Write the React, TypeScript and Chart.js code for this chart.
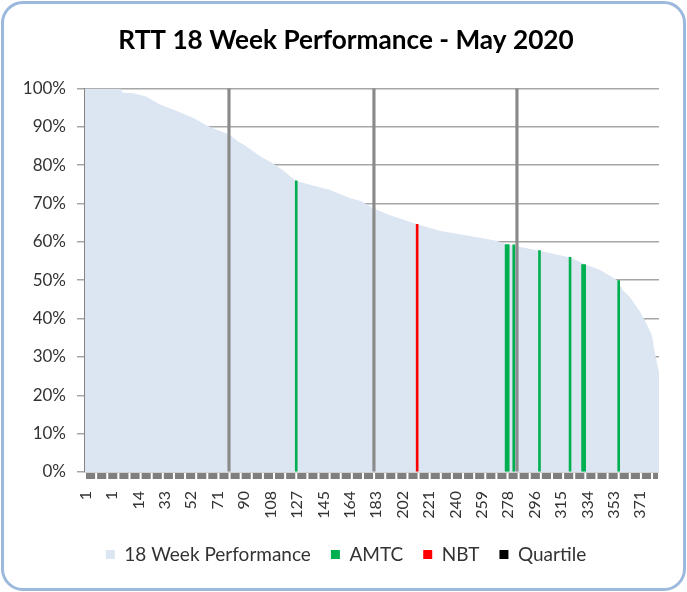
import React, { useEffect, useRef } from "react";
import { Chart, registerables } from "chart.js";

Chart.register(...registerables);

// ---- Data ----
const CATEGORY_COUNT = 413;
const LABEL_STEP = 19;
const TICK_MARK_STEP = 8;
const xTickLabels = ["1", "1", "14", "33", "52", "71", "90", "108", "127", "145", "164", "183", "202", "221", "240", "259", "278", "296", "315", "334", "353", "371"];
const yTicks = [0, 10, 20, 30, 40, 50, 60, 70, 80, 90, 100];

// 18 Week Performance (sorted, %)
const perfX = [0, 26, 27, 34, 44, 54, 66, 78, 88, 97, 104, 107, 110, 116, 126, 135, 142, 148, 152, 162, 176, 191, 199, 207, 219, 239, 255, 277, 296, 303, 310, 327, 349, 360, 371, 383, 387, 392, 399, 404, 408, 410, 413];
const perfY = [100, 100, 98.9, 98.8, 97.9, 95.8, 94.1, 92.3, 90.3, 88.9, 88.0, 87.1, 86.2, 84.9, 82.3, 80.5, 78.8, 77.0, 75.9, 74.9, 73.6, 71.4, 70.6, 68.8, 67.0, 64.6, 62.9, 61.5, 60.3, 59.4, 58.9, 57.7, 55.9, 54.1, 52.6, 50.0, 47.4, 45.6, 42.0, 38.7, 35.5, 31.0, 26.0];

const amtcX = [152, 303, 304.5, 308.5, 327, 349, 358, 359.5, 384];
const amtcY = [75.9, 59.3, 59.3, 59.2, 57.7, 56.0, 54.1, 54.1, 49.9];

const nbtX = [239];
const nbtY = [64.6];

const quartileX = [103.6, 207.9, 310.8];
const quartileY = [100, 100, 100];

const FONT = "Lato, 'Open Sans', sans-serif";

const pts = (xs: number[], ys: number[]) => xs.map((x, i) => ({ x, y: ys[i] }));

// Excel-like segmented tick band under the category axis
const tickBandPlugin = {
  id: "tickBand",
  afterDraw(chart: any) {
    const x = chart.scales.x;
    const area = chart.chartArea;
    const ctx = chart.ctx;
    ctx.save();
    ctx.fillStyle = "#7f7f7f";
    for (let v = 0; v < CATEGORY_COUNT; v += TICK_MARK_STEP) {
      const a = x.getPixelForValue(v);
      const b = x.getPixelForValue(Math.min(v + TICK_MARK_STEP, CATEGORY_COUNT));
      ctx.fillRect(a + 1, area.bottom + 1, b - a - 2, 6);
    }
    ctx.restore();
  },
};

export default function App() {
  const ref = useRef<HTMLCanvasElement | null>(null);

  useEffect(() => {
    if (!ref.current) return;
    const chart = new Chart(ref.current, {
      type: "bar",
      data: {
        datasets: [
          {
            type: "line",
            label: "18 Week Performance",
            data: pts(perfX, perfY),
            backgroundColor: "#dce6f2",
            borderWidth: 0,
            pointRadius: 0,
            fill: "origin",
            tension: 0,
            order: 2,
          } as any,
          {
            label: "AMTC",
            data: pts(amtcX, amtcY),
            backgroundColor: "#00b050",
            barThickness: 2,
            grouped: false,
            order: 1,
          },
          {
            label: "NBT",
            data: pts(nbtX, nbtY),
            backgroundColor: "#ff0000",
            barThickness: 2,
            grouped: false,
            order: 1,
          },
          {
            label: "Quartile",
            data: pts(quartileX, quartileY),
            backgroundColor: "#8a8a8a",
            barThickness: 2.5,
            grouped: false,
            order: 1,
          },
        ],
      },
      options: {
        responsive: false,
        animation: false,
        devicePixelRatio: 1,
        events: [],
        layout: { padding: { left: 10, right: 5, top: 0, bottom: 18 } },
        scales: {
          x: {
            type: "linear",
            min: 0,
            max: CATEGORY_COUNT,
            offset: false,
            grid: { display: false },
            border: { display: false },
            afterBuildTicks: (scale: any) => {
              scale.ticks = xTickLabels.map((_, i) => ({ value: i * LABEL_STEP + 0.5 }));
            },
            afterFit: (scale: any) => {
              scale.height = 53;
            },
            ticks: {
              autoSkip: false,
              minRotation: 90,
              maxRotation: 90,
              padding: 11,
              color: "#333333",
              font: { family: FONT, size: 16 },
              callback: (_v: any, i: number) => xTickLabels[i],
            },
          },
          y: {
            min: 0,
            max: 100,
            afterBuildTicks: (scale: any) => {
              scale.ticks = yTicks.map((v) => ({ value: v }));
            },
            afterFit: (scale: any) => {
              scale.width = 75;
            },
            grid: { color: "#a6a6a6", lineWidth: 1.5, tickLength: 8 },
            border: { color: "#868686", width: 1.5 },
            ticks: {
              padding: 11,
              color: "#333333",
              font: { family: FONT, size: 17 },
              callback: (v: any) => v + "%",
            },
          },
          yRightSpacer: {
            type: "linear",
            position: "right",
            min: 0,
            max: 100,
            display: true,
            grid: { display: false },
            border: { display: false },
            ticks: { display: false },
            afterFit: (scale: any) => {
              scale.width = 23;
            },
          },
        },
        plugins: {
          title: {
            display: true,
            text: "RTT 18 Week Performance - May 2020",
            color: "#000000",
            font: { family: FONT, size: 26.2, weight: "bold" },
            padding: { top: 25, bottom: 32 },
          },
          legend: {
            position: "bottom",
            labels: {
              boxWidth: 9,
              boxHeight: 9,
              padding: 20,
              color: "#333333",
              font: { family: FONT, size: 19 },
              generateLabels: (c: any) => {
                const items = (Chart.defaults.plugins.legend.labels as any).generateLabels(c);
                items.forEach((it: any) => {
                  if (it.text === "Quartile") it.fillStyle = "#000000";
                  it.lineWidth = 0;
                  it.strokeStyle = "rgba(0,0,0,0)";
                });
                return items.sort((a: any, b: any) => a.datasetIndex - b.datasetIndex);
              },
            },
          },
          tooltip: { enabled: false },
        },
      } as any,
      plugins: [tickBandPlugin],
    });
    return () => chart.destroy();
  }, []);

  return (
    <div style={{ position: "absolute", left: 0, top: 0, width: 687, height: 592, background: "#fff" }}>
      <canvas ref={ref} width={687} height={592} style={{ width: 687, height: 592, display: "block" }} />
      <div
        style={{
          position: "absolute",
          left: 1,
          top: 1,
          width: 685,
          height: 590,
          boxSizing: "border-box",
          border: "3px solid #9cb9dd",
          borderRadius: 22,
          pointerEvents: "none",
        }}
      />
    </div>
  );
}
